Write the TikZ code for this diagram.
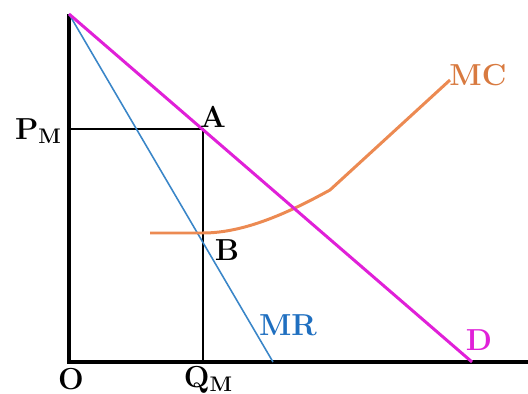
\documentclass[tikz,border=0pt]{standalone}
\usepackage{xcolor}
\usepackage{tikz}
\usetikzlibrary{positioning}
\definecolor{demand}{HTML}{E020D8}
\definecolor{mrblue}{HTML}{3A86C8}
\definecolor{mrtext}{HTML}{1F6FC0}
\definecolor{mcorange}{HTML}{EC8A52}
\definecolor{mctext}{HTML}{D87A40}
\newcommand{\subM}{\raisebox{-0.3ex}{\large M}}

\begin{document}
\begin{tikzpicture}[x=0.02cm,y=-0.02cm,font=\LARGE\bfseries,
  axis/.style={line width=1.8pt,black},
  guide/.style={line width=1.1pt,black},
  lbl/.style={inner sep=0pt}]
\useasboundingbox (0,0) rectangle (528,394);
\coordinate (top) at (69,14);
\coordinate (O) at (69,362);
\coordinate (xend) at (528,362);
\coordinate (A) at (203,129);
\coordinate (PM) at (69,129);
\coordinate (QM) at (203,362);
\coordinate (Dend) at (472,362);
\coordinate (MRend) at (273,362);
% axes and the price/quantity guides
\draw[axis] (top) -- (O) -- (xend);
\draw[guide] (PM) -- (A) -- (QM);
% curves
\draw[mrblue,line width=0.9pt] (top) -- (MRend);
\draw[mcorange,line width=1.7pt] (150,233) -- (203,233)
  .. controls (245,233) and (290,212) .. (330,190) -- (450,80);
\draw[demand,line width=1.7pt] (top) -- (Dend);
% labels
\node[lbl] (lA) at (213,117) {A};
\node[lbl] (lB) at (227,250) {B};
\node[lbl] (lPM) at (38,131) {P\subM};
\node[lbl] (lO) at (71,379) {O};
\node[lbl] (lQM) at (208,380) {Q\subM};
\node[lbl,text=mctext] (lMC) at (478,75) {MC};
\node[lbl,text=mrtext] (lMR) at (288,325) {MR};
\node[lbl,text=demand] (lD) at (479,340) {D};
\end{tikzpicture}
\end{document}
